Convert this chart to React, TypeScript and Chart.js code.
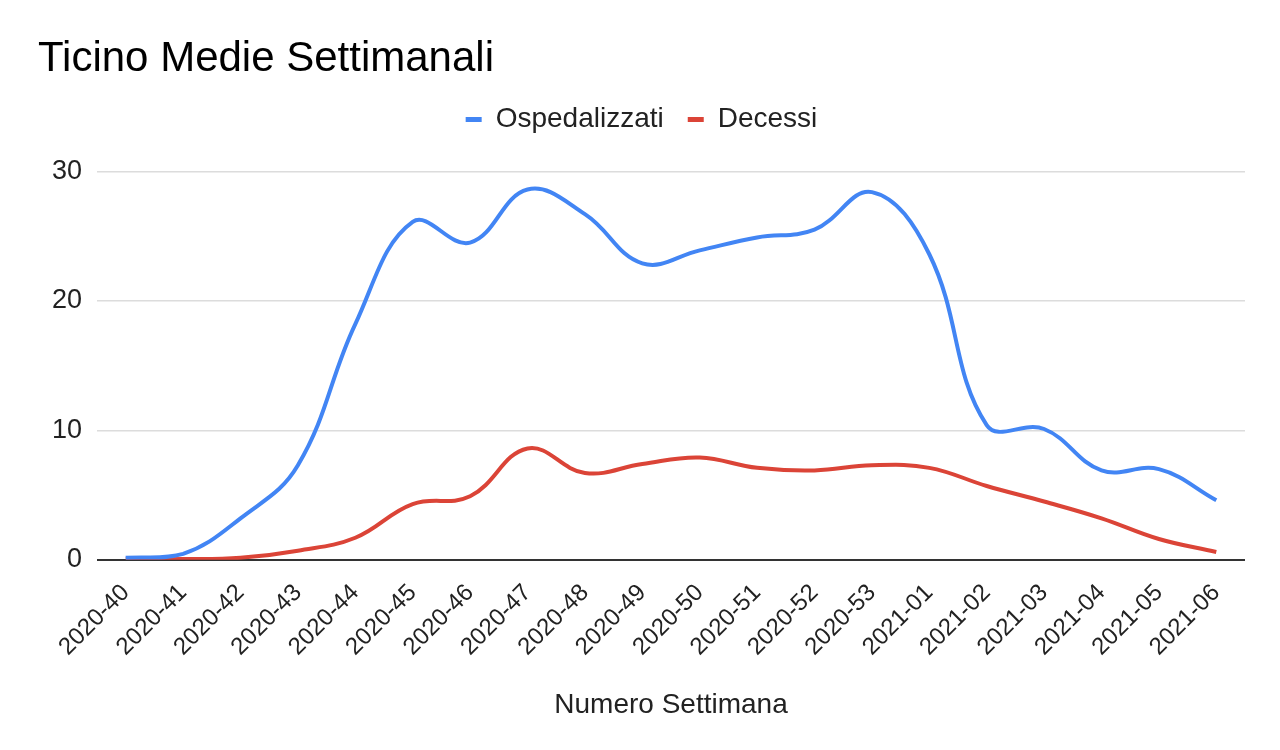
import React, { useEffect, useRef } from "react";
import { Chart, registerables } from "chart.js";

Chart.register(...registerables);

const weeks = [
  "2020-40", "2020-41", "2020-42", "2020-43", "2020-44", "2020-45", "2020-46",
  "2020-47", "2020-48", "2020-49", "2020-50", "2020-51", "2020-52", "2020-53",
  "2021-01", "2021-02", "2021-03", "2021-04", "2021-05", "2021-06",
];

const ospedalizzati = [
  0.15, 0.45, 3.2, 7.3, 18.2, 26.1, 24.5, 28.6, 26.7, 22.9,
  23.9, 24.9, 25.5, 28.4, 23.6, 10.4, 10.1, 6.9, 7.0, 4.6,
];

const decessi = [
  0.05, 0.05, 0.15, 0.7, 1.7, 4.3, 4.9, 8.6, 6.7, 7.4,
  7.9, 7.1, 6.9, 7.3, 7.1, 5.7, 4.5, 3.2, 1.6, 0.6,
];

const yTicks = [0, 10, 20, 30];

const FONT = "'Liberation Sans', Arial, sans-serif";

const legendGap = {
  id: "legendGap",
  beforeUpdate(chart: any) {
    const l = chart.legend;
    if (l && !l._gapPatched) {
      const orig = l.fit;
      l.fit = function () {
        orig.call(this);
        this.height += 28;
      };
      l._gapPatched = true;
    }
  },
};

export default function App() {
  const canvasRef = useRef<HTMLCanvasElement | null>(null);

  useEffect(() => {
    document.body.style.margin = "0";
    const canvas = canvasRef.current;
    if (!canvas) return;
    const chart = new Chart(canvas, {
      type: "line",
      data: {
        labels: weeks,
        datasets: [
          {
            label: "Ospedalizzati",
            data: ospedalizzati,
            borderColor: "#4285F4",
            backgroundColor: "#4285F4",
            borderWidth: 4,
            pointRadius: 0,
            tension: 0.4,
          },
          {
            label: "Decessi",
            data: decessi,
            borderColor: "#DB4437",
            backgroundColor: "#DB4437",
            borderWidth: 4,
            pointRadius: 0,
            tension: 0.4,
          },
        ],
      },
      plugins: [legendGap],
      options: {
        animation: false,
        responsive: false,
        layout: { padding: { left: 38, right: 35, top: 34, bottom: 28 } },
        plugins: {
          title: {
            display: true,
            text: "Ticino Medie Settimanali",
            align: "start",
            color: "#000",
            font: { family: FONT, size: 42, weight: "normal" },
            padding: { top: 0, bottom: -3 },
          },
          legend: {
            display: true,
            position: "top",
            labels: {
              color: "#222",
              font: { family: FONT, size: 28 },
              boxWidth: 16,
              boxHeight: 5,
              padding: 24,
              generateLabels: (c: any) =>
                Chart.defaults.plugins.legend.labels
                  .generateLabels(c)
                  .map((l: any) => ({ ...l, lineWidth: 0, fillStyle: l.strokeStyle })),
            },
          },
          tooltip: { enabled: false },
        },
        scales: {
          x: {
            offset: true,
            grid: { display: false },
            border: { display: false },
            ticks: {
              color: "#222",
              font: { family: FONT, size: 24 },
              minRotation: 45,
              maxRotation: 45,
              autoSkip: false,
              padding: 11,
            },
            title: {
              display: true,
              text: "Numero Settimana",
              color: "#222",
              font: { family: FONT, size: 28 },
              padding: { top: 16, bottom: 0 },
            },
          },
          y: {
            min: 0,
            max: 30,
            afterBuildTicks: (axis: any) => {
              axis.ticks = yTicks.map((v) => ({ value: v }));
            },
            afterFit: (axis: any) => {
              axis.width = 59;
            },
            grid: {
              drawTicks: false,
              color: (ctx: any) => (ctx.tick && ctx.tick.value === 0 ? "#333" : "#dcdcdc"),
              lineWidth: (ctx: any) => (ctx.tick && ctx.tick.value === 0 ? 2 : 1.5),
            },
            border: { display: false },
            ticks: {
              color: "#222",
              font: { family: FONT, size: 27 },
              padding: 15,
            },
          },
        },
      },
    });
    return () => chart.destroy();
  }, []);

  return (
    <div style={{ position: "absolute", left: 0, top: 0, width: 1280, height: 750, background: "#fff" }}>
      <canvas ref={canvasRef} width={1280} height={750} style={{ width: 1280, height: 750 }} />
    </div>
  );
}
